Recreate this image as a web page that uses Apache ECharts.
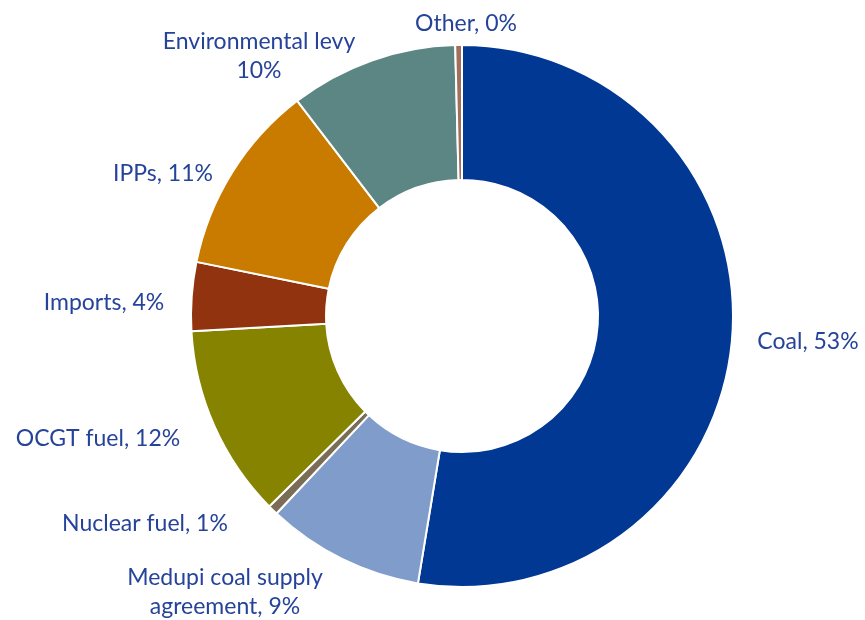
<!DOCTYPE html>
<html>
<head>
<meta charset="utf-8">
<script src="https://cdn.jsdelivr.net/npm/echarts@6/dist/echarts.min.js"></script>
<style>
  html, body { margin: 0; padding: 0; background: #ffffff; }
  #chart { width: 865px; height: 620px; }
</style>
</head>
<body>
<div id="chart"></div>
<script>
// Cost components, clockwise from 12 o'clock (percent of total)
const categories = ['Coal', 'Medupi coal supply agreement', 'Nuclear fuel', 'OCGT fuel', 'Imports', 'IPPs', 'Environmental levy', 'Other'];
const shares = [52.6, 9.4, 0.6, 11.5, 4.1, 11.4, 10.0, 0.4];
// Label text shown before each percentage
const labelPrefixes = ['Coal, ', 'Medupi coal supply\nagreement, ', 'Nuclear fuel, ', 'OCGT fuel, ', 'Imports, ', 'IPPs, ', 'Environmental levy\n', 'Other, '];

const sliceColors = ['#003893', '#7f9cca', '#7b6c55', '#858300', '#92330f', '#c97b00', '#5b8683', '#a0705a'];
const pieCenter = [462, 316];
// Label centres relative to the pie centre
const labelOffsets = [
  [346, 26], [-237, 276], [-317, 208], [-364, 123],
  [-358, -13], [-299, -142], [-203, -260], [4, -292]
];

const chart = echarts.init(document.getElementById('chart'), null, { renderer: 'canvas' });

chart.setOption({
  backgroundColor: '#ffffff',
  animation: false,
  series: [{
    type: 'pie',
    center: pieCenter,
    radius: [136, 271],
    startAngle: 90,
    clockwise: true,
    avoidLabelOverlap: false,
    itemStyle: { borderColor: '#ffffff', borderWidth: 2 },
    label: {
      show: true,
      position: 'outside',
      color: '#26439a',
      fontFamily: 'Lato, "Open Sans", sans-serif',
      fontSize: 23,
      lineHeight: 29,
      align: 'center',
      formatter: p => labelPrefixes[p.dataIndex] + Math.round(p.value) + '%'
    },
    labelLine: { show: false },
    labelLayout: p => ({
      x: pieCenter[0] + labelOffsets[p.dataIndex][0],
      y: pieCenter[1] + labelOffsets[p.dataIndex][1],
      align: 'center',
      verticalAlign: 'middle'
    }),
    emphasis: { disabled: true },
    data: categories.map((name, i) => ({
      name: name,
      value: shares[i],
      itemStyle: { color: sliceColors[i] }
    }))
  }]
});
</script>
</body>
</html>
